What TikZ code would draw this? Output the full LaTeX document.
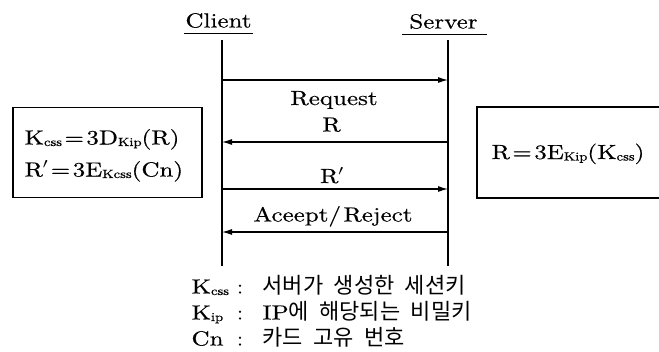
\documentclass[tikz,border=0pt]{standalone}
\usepackage{fontspec}
\setmainfont{lmroman10-regular.otf}[FakeBold=0.4]
\newfontfamily\kr{Noto Sans CJK KR}
\usetikzlibrary{arrows.meta}
\newcommand{\W}[1]{\scalebox{1.22}[1]{#1}}
\newcommand{\sbs}[1]{\raisebox{-1.5pt}{\fontsize{12}{12}\selectfont #1}}
\newcommand{\ksp}{\hspace{10.5pt}}
\begin{document}
\begin{tikzpicture}[x=1pt,y=-1pt,line width=1.1pt,
  lbl/.style={inner sep=0pt,font=\fontsize{20.5}{20.5}\selectfont},
  krl/.style={inner sep=0pt,font=\fontsize{22}{22}\selectfont\kr},
  msg/.style={-{Latex[length=10pt,width=6pt]}},
  box/.style={draw,inner sep=0pt}]
\useasboundingbox (0,0) rectangle (659,351);

% headers
\node[lbl,anchor=base] (client) at (218.5,27.5) {\W{Client}};
\node[lbl,anchor=base] (server) at (443.5,28.5) {\W{Server}};
\coordinate (cu1) at (184,33.5);
\coordinate (cu2) at (253,33.5);
\coordinate (su1) at (402,34.5);
\coordinate (su2) at (487,34.5);
\draw (cu1) -- (cu2);
\draw (su1) -- (su2);

% lifelines
\coordinate (ctop) at (222,40);
\coordinate (cbot) at (222,266);
\coordinate (stop) at (448,40);
\coordinate (sbot) at (448,266);
\draw (ctop) -- (cbot);
\draw (stop) -- (sbot);

% message points
\coordinate (c1) at (222,80);  \coordinate (s1) at (448,80);
\coordinate (c2) at (222,142); \coordinate (s2) at (448,142);
\coordinate (c3) at (222,189); \coordinate (s3) at (448,189);
\coordinate (c4) at (222,232); \coordinate (s4) at (448,232);
\draw[msg] (c1) -- (s1);
\draw[msg] (s2) -- (c2);
\draw[msg] (c3) -- (s3);
\draw[msg] (s4) -- (c4);

\node[lbl,anchor=base] (m1) at (334,105) {\W{Request}};
\node[lbl,anchor=base] (m2) at (331.5,131.5) {\W{R}};
\node[lbl,anchor=base] (m3) at (332,183) {\W{R$'$}};
\node[lbl,anchor=base] (m4) at (333,221.5) {\W{Aceept/\kern2pt Reject}};

% boxes
\node[box,minimum width=189pt,minimum height=90pt] (lbox) at (107.5,152.5) {};
\node[box,minimum width=190pt,minimum height=91pt] (rbox) at (572,152.5) {};
\node[lbl,anchor=base west] (l1) at (24,144.5) {\W{K\sbs{css}\kern2pt=\kern2pt3D\sbs{Kip}(R)}};
\node[lbl,anchor=base west] (l2) at (24,176.5) {\W{R$'$\kern2pt=\kern2pt3E\sbs{Kcss}(Cn)}};
\node[lbl,anchor=base west] (r1) at (491,159) {\W{R\kern2pt=\kern2pt3E\sbs{Kip}(K\sbs{css})}};

% legend
\node[lbl,anchor=base west] (k1) at (191,293.5) {\W{K\sbs{css}}};
\node[lbl,anchor=base west] (k2) at (191,319.5) {\W{K\sbs{ip}}};
\node[lbl,anchor=base west] (k3) at (191,345.5) {\W{Cn}};
\node[lbl,anchor=base] (c1c) at (240,293.5) {:};
\node[lbl,anchor=base] (c2c) at (240,319.5) {:};
\node[lbl,anchor=base] (c3c) at (240,345.5) {:};
\node[krl,anchor=base west] (d1) at (262,293.5) {서버가\ksp 생성한\ksp 세션키};
\node[krl,anchor=base west] (d2) at (262,319.5) {{\fontsize{20.5}{20.5}\rmfamily\W{IP}}에\ksp 해당되는\ksp 비밀키};
\node[krl,anchor=base west] (d3) at (262,345.5) {카드\ksp 고유\ksp 번호};
\end{tikzpicture}
\end{document}
